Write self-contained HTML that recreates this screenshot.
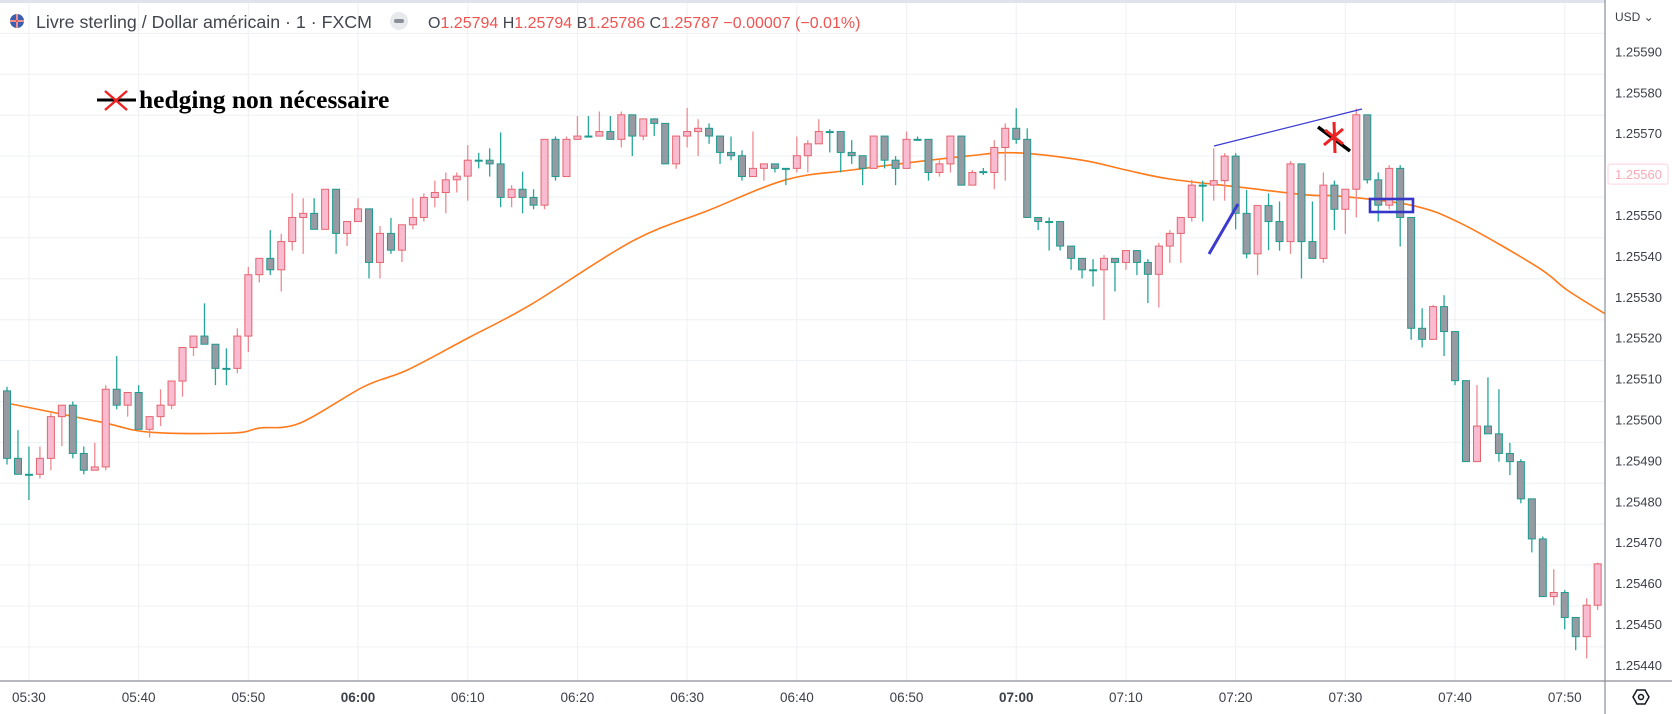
<!DOCTYPE html>
<html><head><meta charset="utf-8"><style>
html,body{margin:0;padding:0;background:#fff;width:1672px;height:714px;overflow:hidden;font-family:"Liberation Sans",sans-serif}
svg{position:absolute;left:0;top:0}
</style></head><body>
<svg id="chart" width="1672" height="714" viewBox="0 0 1672 714">
<rect x="0" y="0" width="1672" height="714" fill="#fff"/>
<rect x="0" y="0" width="1672" height="3" fill="#e0e3eb"/>
<g id="grid"></g>
<g id="ma"></g>
<g id="candles"></g>
<g id="axes"></g>
<g>
<line x1="1214" y1="146" x2="1362" y2="109" stroke="#3b3bd0" stroke-width="1.2"/>
<line x1="1209" y1="254" x2="1238" y2="204" stroke="#3b3bd0" stroke-width="3"/>
<rect x="1370" y="199" width="43" height="13" fill="none" stroke="#3535c8" stroke-width="2.6"/>
<line x1="1318" y1="127" x2="1350" y2="151" stroke="#000" stroke-width="3.5"/>
<g stroke="#ee2222" stroke-width="3">
<line x1="1325" y1="130" x2="1343" y2="144"/><line x1="1343" y1="129" x2="1324" y2="145"/><line x1="1334" y1="122" x2="1335" y2="153"/></g>
<line x1="97" y1="100" x2="136" y2="100" stroke="#000" stroke-width="3"/>
<g stroke="#ee2222" stroke-width="2.4"><line x1="105" y1="91" x2="127" y2="110"/><line x1="127" y1="91" x2="105" y2="110"/></g>
<text x="139" y="108" font-family="Liberation Serif, serif" font-weight="bold" font-size="25.5" fill="#000">hedging non nécessaire</text>
</g>
<g>
<circle cx="17" cy="21" r="7" fill="#3b5fb0"/>
<path d="M10 21h14M17 14v14" stroke="#fff" stroke-width="2"/><path d="M10 21h14M17 14v14" stroke="#d22" stroke-width="1"/>
<text x="36" y="28" font-size="17.8" fill="#42464f">Livre sterling / Dollar américain · 1 · FXCM</text>
<circle cx="399" cy="21" r="9" fill="#e8e9ec"/>
<rect x="394" y="19" width="10" height="4" rx="2" fill="#8a8e97"/>
<text x="428" y="28" font-size="16" fill="#42464f">O<tspan fill="#ef5350">1.25794</tspan> H<tspan fill="#ef5350">1.25794</tspan> B<tspan fill="#ef5350">1.25786</tspan> C<tspan fill="#ef5350">1.25787</tspan> <tspan fill="#ef5350">−0.00007 (−0.01%)</tspan></text>
</g>
</svg>
<script>
// values in 1e-5 units above 1.25000
const open =[507,490.5,486.6,486.6,490.5,500.7,503.5,491.7,487.6,488.4,507.4,503.5,506.6,497.6,500.7,503.5,509.4,517.6,520.4,518.4,512.5,512.5,520.4,535.4,539.4,536.6,543.5,549.4,550.4,546.5,556.3,545.5,548.4,551.5,538.4,545.5,541.4,547.6,549.4,554.3,555.5,558.6,559.5,563.4,563.4,562.5,554.3,556.3,554.3,552.4,568.5,559.4,568.5,569.3,569.3,570.4,568.5,574.5,569.3,573.5,572.4,562.5,569.3,570.4,571.2,569.3,565.3,564.5,559.4,561.4,562.5,561.4,561.4,564.5,567.4,570.4,570.4,565.3,564.5,561.4,569.3,563.4,561.4,568.5,568.5,560.4,562.5,569.3,557.3,560.6,560.4,566.5,571.2,568.5,549.4,548.4,548.4,542.4,539.4,536.6,536.6,539.4,538.4,541.3,538.4,535.5,542.4,545.5,549.4,557.3,557.3,558.4,564.4,550.4,540.5,552.3,548.4,543.5,562.5,543.5,539.4,557.3,551.4,556.3,574.5,558.6,552.4,561.4,549.4,522.3,519.6,527.6,521.5,509.5,489.7,498.4,496.5,491.7,489.7,480.6,470.8,456.7,457.7,451.6,446.9,454.6];
const high =[508,497.4,493.4,493.4,501.5,503.5,504.4,493.4,494.3,508.4,515.5,506.6,508.4,500.7,507.4,509.4,517.6,520.4,528.4,518.4,517.4,522.3,537.3,539.4,546.3,545.4,555.3,554.1,554.1,556.3,556.3,548.4,554.1,551.5,547.3,549.3,547.6,554.1,555.3,558.4,560.4,560.4,567.1,565.2,566.3,570.2,557.3,560.6,556.3,568.5,569.2,569.2,574.2,574.2,575.3,574.2,575.3,574.5,573.5,573.5,572.4,569.3,576.2,573.4,572.4,569.3,569.2,565.8,570.4,562.5,562.5,561.4,569.2,568.3,573.4,571,570.4,568.3,564.5,569.3,569.3,564.4,570.4,569.2,568.5,563.4,569.3,569.3,561,561.5,568.3,572.4,576.1,571.2,549.4,549.4,548.4,542.4,539.4,539.2,540.2,539.4,541.3,541.3,539.2,543.2,546.3,549.4,558.6,558.4,566.3,565.1,565.1,556.1,552.3,555.3,553.3,563.2,562.5,553.3,560.4,558.4,556.3,576,574.5,560.4,562.2,562.2,549.4,527.2,528,530.4,521.5,509.5,508.4,510.3,507.4,494.3,490.3,480.6,471.4,463.4,458.3,451.6,456.3,465];
const low  =[489,486.6,480.3,485.6,487.6,493.5,490.5,486.6,487.6,487.6,502.5,500.7,497.6,495.6,498.4,502.5,505.6,515.5,518.4,508.4,508.4,511.3,516.5,533.5,535.3,531.3,541.3,540.5,546.5,546.5,540.5,542.4,548.4,534.5,534.5,540.5,538.5,546.5,548.4,551.9,550.4,555.5,553.5,561.4,559.4,551.9,551.9,550.4,551.4,551.4,558.4,559.4,568.5,569.3,569.3,568.5,566.5,564.4,568.3,569.3,562.5,561.3,566.5,564.4,567.4,562.5,563.4,558.4,559.4,558.4,560.4,557.3,560.4,560.4,567.4,565.3,560.4,562.5,557.3,561.4,561.4,557.3,561.4,568.3,558.4,559.4,560.4,557.3,557.3,559.8,556.3,558.4,567.4,549.4,546.3,541.3,541.3,536.6,534.5,532.5,524.3,531.3,536.6,535.3,528.5,527.4,538.3,538.3,548.4,548.4,553.5,553.5,546.5,539.4,535.3,541.4,541.3,540.5,534.5,539.4,538.3,546.3,545.4,549.4,557.7,548.4,551.4,542.3,519.5,517.6,519.6,515.5,508.4,489.7,489.7,496.5,489.7,486.4,479.5,467.5,456.7,454.6,448.7,443.6,441.6,453.4];
const close=[490.5,486.6,486.6,490.5,500.7,503.5,491.7,487.6,488.4,507.4,503.5,506.6,497.6,500.7,503.5,509.4,517.6,520.4,518.4,512.5,512.5,520.4,535.4,539.4,536.6,543.5,549.4,550.4,546.5,556.3,545.5,548.4,551.5,538.4,545.5,541.4,547.6,549.4,554.3,555.5,558.6,559.5,563.4,563.4,562.5,554.3,556.3,554.3,552.4,568.5,559.4,568.5,569.3,569.3,570.4,568.5,574.5,569.3,573.5,572.4,562.5,569.3,570.4,571.2,569.3,565.3,564.5,559.4,561.4,562.5,561.4,561.4,564.5,567.4,570.4,570.4,565.3,564.5,561.4,569.3,563.4,561.4,568.5,568.5,560.4,562.5,569.3,557.3,560.4,560.6,566.5,571.2,568.5,549.4,548.4,548.4,542.4,539.4,536.6,536.6,539.4,538.4,541.3,538.4,535.5,542.4,545.5,549.4,557.3,557.3,558.4,564.4,550.4,540.5,552.3,548.4,543.5,562.5,543.5,539.4,557.3,551.4,556.3,574.5,558.6,552.4,561.4,549.4,522.3,519.6,527.6,521.5,509.5,489.7,498.4,496.5,491.7,489.7,480.6,470.8,456.7,457.7,451.6,446.9,454.6,464.7];
const maIndex=[0,8.5,13,20.6,23,26.7,32.5,36.5,42,47.7,57,64,71,77,87.5,92,98,102,106,112.4,118.5,121.5,128,132.5,139.5,142.2,145.7];
const maValue=[504,499.4,496.9,496.7,497.9,499.1,508,512.1,519.9,528,543.6,551.2,558.6,561,564.4,565.2,563.4,561,558.8,556.8,554.9,554.6,552.4,548,537.3,531.7,525.8];
const priceTicks=[440,450,460,470,480,490,500,510,520,530,540,550,560,570,580,590];
const timeLabels=["05:30","05:40","05:50","06:00","06:10","06:20","06:30","06:40","06:50","07:00","07:10","07:20","07:30","07:40","07:50"];
const timeIndex=[2,12,22,32,42,52,62,72,82,92,102,112,122,132,142];
const lastPrice=560;

const NS="http://www.w3.org/2000/svg";
const PLOT_R=1605, PLOT_B=681;
function yOf(v){return 624-(v-450)*4.09;}
function xOf(i){return 7+i*10.97;}
function mk(tag,attrs,parent){const e=document.createElementNS(NS,tag);for(const k in attrs)e.setAttribute(k,attrs[k]);parent.appendChild(e);return e;}

const grid=document.getElementById('grid');
for(let k=0;k<=priceTicks.length;k++){
  const v=k<priceTicks.length?priceTicks[k]:600;
  const y=yOf(v)-18;
  if(y<4)continue;
  const l=mk('line',{x1:0,x2:PLOT_R,y1:y,y2:y,stroke:'#edf0f4','stroke-width':1},grid);
  
  
}
timeIndex.forEach(i=>{
  const l=mk('line',{x1:xOf(i),x2:xOf(i),y1:3,y2:PLOT_B,stroke:'#edf0f4','stroke-width':1},grid);
  
  
});

const pts=maIndex.map((i,k)=>[xOf(i),yOf(maValue[k])]);
let d='M'+pts[0][0]+' '+pts[0][1];
for(let k=0;k<pts.length-1;k++){
  const p0=pts[Math.max(0,k-1)],p1=pts[k],p2=pts[k+1],p3=pts[Math.min(pts.length-1,k+2)];
  const c1=[p1[0]+(p2[0]-p0[0])/6,p1[1]+(p2[1]-p0[1])/6],c2=[p2[0]-(p3[0]-p1[0])/6,p2[1]-(p3[1]-p1[1])/6];
  d+=`C${c1[0]} ${c1[1]} ${c2[0]} ${c2[1]} ${p2[0]} ${p2[1]}`;
}
const maPath=mk('path',{d:d,fill:'none',stroke:'#ff7a1a','stroke-width':1.6},document.getElementById('ma'));



const cg=document.getElementById('candles');
for(let i=0;i<open.length;i++){
  const up=close[i]>open[i];
  const x=xOf(i);
  if(x>PLOT_R)break;
  const g=mk('g',{},cg);
  
  
  mk('line',{x1:x,x2:x,y1:yOf(high[i]),y2:yOf(low[i]),stroke:up?'#ef8a92':'#26a69a','stroke-width':1.3},g);
  const top=yOf(Math.max(open[i],close[i])),bot=yOf(Math.min(open[i],close[i]));
  const h=Math.max(1,bot-top);
  const w=Math.min(7,(PLOT_R-(x-3.5)));
  if(w>0) mk('rect',{x:x-3.5,y:top,width:w,height:h,fill:up?'#f8bbd0':'#979aa3',stroke:up?'#e5646e':'#1f9a8e','stroke-width':1},g);
}

const ax=document.getElementById('axes');
mk('rect',{x:PLOT_R+0.5,y:0,width:1672-PLOT_R,height:714,fill:'#fff'},ax);
mk('rect',{x:0,y:PLOT_B+0.5,width:1672,height:714-PLOT_B,fill:'#fff'},ax);
const va=mk('line',{x1:PLOT_R,x2:PLOT_R,y1:0,y2:714,stroke:'#8a8e97','stroke-width':1.2},ax);


const ha=mk('line',{x1:0,x2:1672,y1:PLOT_B,y2:PLOT_B,stroke:'#8a8e97','stroke-width':1.2},ax);


priceTicks.forEach(v=>{
  const t=mk('text',{x:1662,y:yOf(v)+5,'text-anchor':'end','font-size':13,fill:'#3c4049'},ax);
  t.textContent=(1.25+v/1e5).toFixed(5);
  
  
});
const lp=mk('rect',{x:1608,y:yOf(lastPrice)-10,width:60,height:20,rx:2,fill:'#fff',stroke:'#fbd4dc'},ax);


const lpt=mk('text',{x:1662,y:yOf(lastPrice)+5,'text-anchor':'end','font-size':13,fill:'#f7a9b6'},ax);
lpt.textContent=(1.25+lastPrice/1e5).toFixed(5);


const usd=mk('text',{x:1615,y:21,'font-size':12,fill:'#3c4049'},ax);
usd.textContent='USD ⌄';


timeLabels.forEach((s,k)=>{
  const bold=(s==='06:00'||s==='07:00');
  const t=mk('text',{x:xOf(timeIndex[k]),y:702,'text-anchor':'middle','font-size':13.5,fill:'#3c4049','font-weight':bold?'bold':'normal'},ax);
  t.textContent=s;
  
  
});
const gear=mk('polygon',{points:'1633,697 1637,690 1645,690 1649,697 1645,704 1637,704',fill:'none',stroke:'#131722','stroke-width':1.5},ax);


mk('circle',{cx:1641,cy:697,r:2.5,fill:'none',stroke:'#131722','stroke-width':1.5},ax);
</script>
</body></html>
